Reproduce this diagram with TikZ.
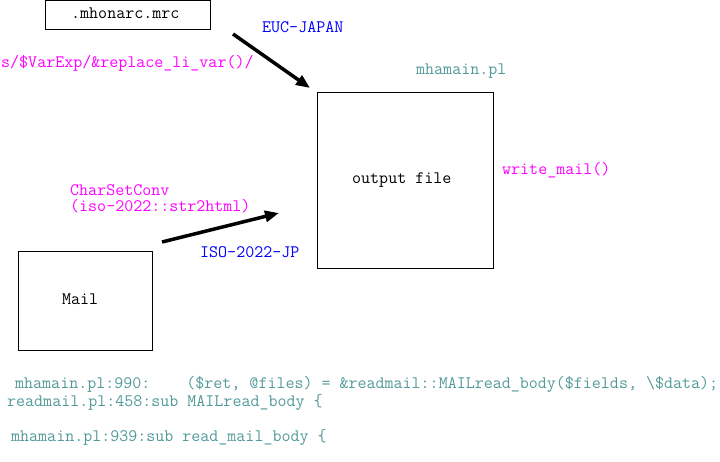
\documentclass[tikz,border=0pt]{standalone}
\usepackage{fontspec}
\usetikzlibrary{arrows.meta}
\definecolor{tealtxt}{RGB}{82,153,153}
\definecolor{magtxt}{RGB}{255,0,255}
\definecolor{bluetxt}{RGB}{0,0,255}
\tikzset{
  txt/.style={inner sep=0pt, anchor=base west, font=\ttfamily\fontsize{17.5}{17.5}\selectfont},
  box/.style={draw=black, line width=1pt},
  flow/.style={line width=3.5pt, -{Triangle[length=14pt,width=11pt]}},
}
\begin{document}
\begin{tikzpicture}[x=1pt,y=-1pt]
\useasboundingbox (0,0) rectangle (720,462);
% boxes
\draw[box] (45,1) rectangle (210,30);
\node[txt] (mrc) at (71,19) {.mhonarc.mrc};
\draw[box] (317,93) rectangle (493,269);
\node[txt] (out) at (352,184) {output file};
\draw[box] (18,252) rectangle (152,350);
\node[txt] (mail) at (62,305) {Mail};
% labels
\node[txt, text=bluetxt] (euc) at (262,33) {EUC-JAPAN};
\node[txt, text=magtxt] (subst) at (1,68) {s/\$VarExp/\&replace\_li\_var()/};
\node[txt, text=tealtxt] (mha) at (416,75) {mhamain.pl};
\node[txt, text=magtxt] (wm) at (502,175) {write\_mail()};
\node[txt, text=magtxt] (csc) at (70,196) {CharSetConv};
\node[txt, text=magtxt] (iso) at (70,212) {(iso-2022::str2html)};
\node[txt, text=bluetxt] (jp) at (200,258) {ISO-2022-JP};
\node[txt, text=tealtxt] (l1) at (15,388) {mhamain.pl:990:\ \ \ \ (\$ret, @files) = \&readmail::MAILread\_body(\$fields, \textbackslash\$data);};
\node[txt, text=tealtxt] (l2) at (7,406) {readmail.pl:458:sub MAILread\_body \{};
\node[txt, text=tealtxt] (l3) at (11,441) {mhamain.pl:939:sub read\_mail\_body \{};
% arrows
\coordinate (a1s) at (233,34);
\coordinate (a1e) at (310,88);
\coordinate (a2s) at (162,242);
\coordinate (a2e) at (279,213);
\draw[flow] (a1s) -- (a1e);
\draw[flow] (a2s) -- (a2e);
\end{tikzpicture}
\end{document}
